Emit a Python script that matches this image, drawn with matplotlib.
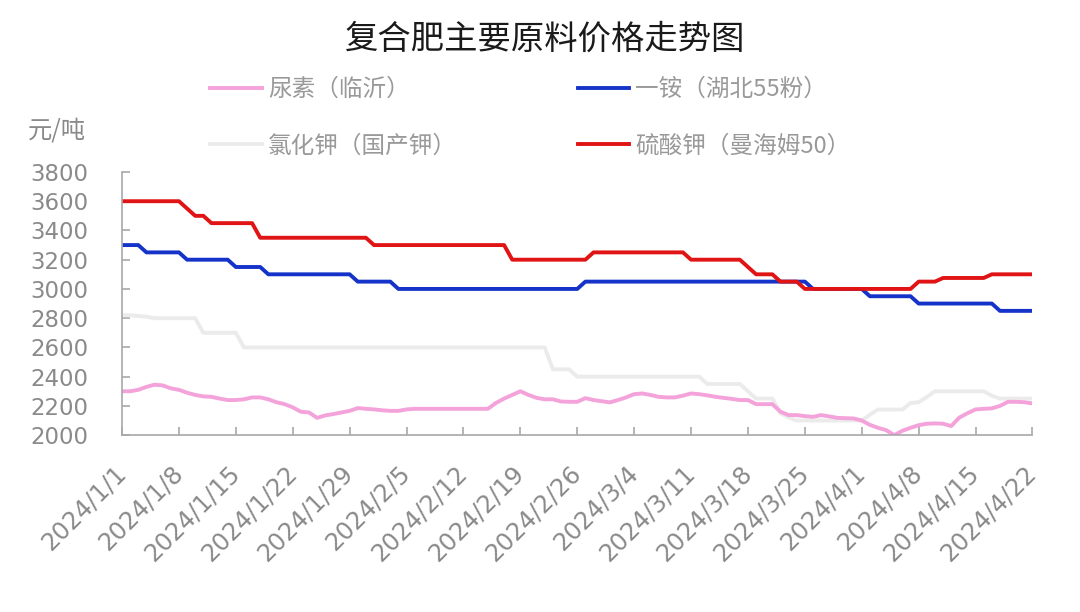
import matplotlib
matplotlib.use("Agg")
import matplotlib.pyplot as plt
import pandas as pd

plt.rcParams['font.family'] = ['Noto Sans CJK SC', 'DejaVu Sans']

# 日期 2024/1/1 - 2024/4/22
dates = pd.date_range('2024-01-01', '2024-04-22', freq='D')

# 尿素（临沂）
urea = [2300, 2300, 2310, 2330, 2345, 2340, 2320, 2310, 2290, 2275,
        2265, 2262, 2250, 2240, 2240, 2245, 2258, 2258, 2245, 2225,
        2212, 2190, 2160, 2155, 2118, 2135, 2144, 2155, 2166, 2185,
        2180, 2176, 2170, 2166, 2166, 2176, 2180, 2180, 2180, 2180,
        2180, 2180, 2180, 2180, 2180, 2180, 2220, 2250, 2275, 2300,
        2275, 2255, 2245, 2245, 2230, 2228, 2228, 2253, 2240, 2232,
        2224, 2240, 2258, 2280, 2285, 2275, 2262, 2258, 2258, 2270,
        2285, 2280, 2272, 2262, 2255, 2248, 2240, 2240, 2212, 2212,
        2212, 2160, 2137, 2137, 2130, 2125, 2137, 2128, 2118, 2116,
        2114, 2100, 2070, 2050, 2034, 2000, 2030, 2050, 2068, 2078,
        2080, 2078, 2062, 2120, 2150, 2176, 2180, 2183, 2200, 2228,
        2228, 2225, 2217]

# 一铵（湖北55粉）
map_ = ([3300] * 3 + [3250] * 5 + [3200] * 6 + [3150] * 4 + [3100] * 11 +
        [3050] * 5 + [3000] * 23 + [3050] * 28 + [3000] * 7 + [2950] * 6 +
        [2900] * 10 + [2850] * 5)

# 氯化钾（国产钾）
kcl = ([2820, 2820, 2815, 2810] + [2800] * 6 + [2700] * 5 + [2600] * 38 +
       [2450] * 3 + [2400] * 16 + [2350] * 5 + [2300] + [2250] * 3 +
       [2150, 2120] + [2100] * 9 + [2140] + [2175] * 4 + [2220, 2225, 2260] +
       [2300] * 7 + [2270] + [2250] * 5)

# 硫酸钾（曼海姆50）
sop = ([3600] * 8 + [3550, 3500, 3500] + [3450] * 6 + [3350] * 14 +
       [3300] * 17 + [3200] * 10 + [3250] * 12 + [3200] * 7 + [3150] +
       [3100] * 3 + [3050] * 3 + [3000] * 14 + [3050] * 3 + [3075] * 6 +
       [3100] * 6)

fig = plt.figure(figsize=(10.8, 6.12), dpi=100)
ax = fig.add_axes([0.113, 0.289, 0.843, 0.430])

l_kcl, = ax.plot(dates, kcl, color='#ebebeb', lw=2.8, label='氯化钾（国产钾）')
l_urea, = ax.plot(dates, urea, color='#f4a2da', lw=2.8, label='尿素（临沂）')
l_map, = ax.plot(dates, map_, color='#1533c8', lw=2.8, label='一铵（湖北55粉）')
l_sop, = ax.plot(dates, sop, color='#e01414', lw=2.8, label='硫酸钾（曼海姆50）')

ax.set_xlim(dates[0], dates[-1])
ax.set_ylim(2000, 3800)
ax.set_yticks(range(2000, 3801, 200))

ticks = dates[::7]
ax.set_xticks(ticks)
ax.set_xticklabels([f'{d.year}/{d.month}/{d.day}' for d in ticks],
                   rotation=45, ha='right', va='center', rotation_mode='anchor',
                   fontsize=17.5, color='#8a8a8a', family=['DejaVu Sans'])
for t in ax.get_yticklabels():
    t.set_fontsize(16.5)
    t.set_color('#8a8a8a')
    t.set_family(['DejaVu Sans'])

for s in ['top', 'right']:
    ax.spines[s].set_visible(False)
for s in ['left', 'bottom']:
    ax.spines[s].set_color('#a8a8a8')
    ax.spines[s].set_linewidth(1.2)
ax.tick_params(direction='in', length=6, width=1.2, color='#a8a8a8')
ax.tick_params(axis='y', pad=24)
ax.tick_params(axis='x', pad=25)

fig.text(0.505, 0.936, '复合肥主要原料价格走势图', ha='center', va='center',
         fontsize=24, color='#1a1a1a')
fig.text(0.026, 0.786, '元/吨', ha='left', va='center', fontsize=17.5,
         color='#8a8a8a')

leg = fig.legend(handles=[l_urea, l_kcl, l_map, l_sop], ncol=2,
                 loc='upper left', bbox_to_anchor=(0.175, 0.907),
                 frameon=False, fontsize=17, handlelength=2.2,
                 handletextpad=0.25, columnspacing=5.1, labelspacing=1.42)
for t in leg.get_texts():
    t.set_color('#999999')

fig.savefig('out.png', dpi=100)
